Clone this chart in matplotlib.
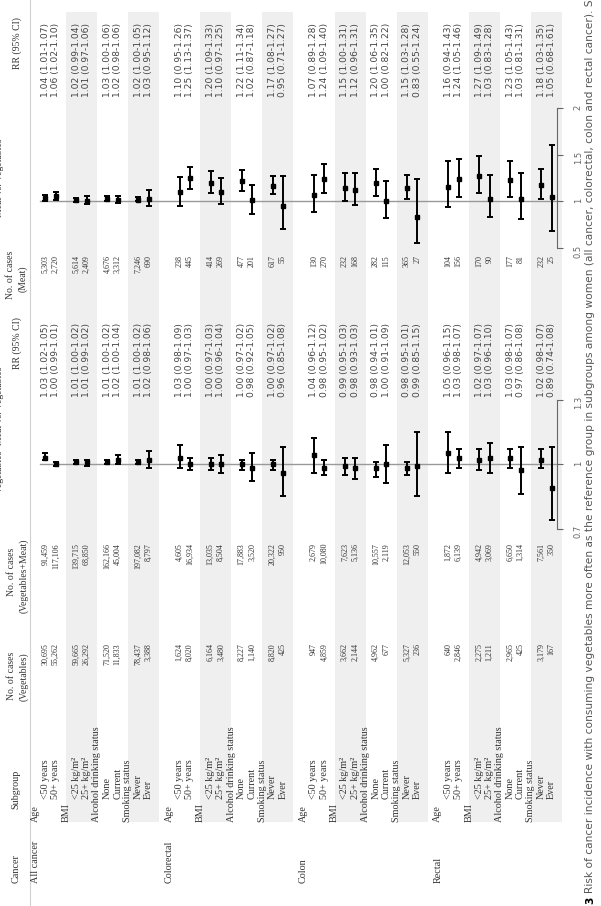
import matplotlib
matplotlib.use('Agg')
import matplotlib.pyplot as plt
from matplotlib.patches import Rectangle

cancers = ['All cancer', 'Colorectal', 'Colon', 'Rectal']
subgroup_lines = ['Age', '<50 years', '50+ years', 'BMI', '<25 kg/m²', '25+ kg/m²',
                  'Alcohol drinking status', 'None', 'Current', 'Smoking status', 'Never', 'Ever']

n_veg = [30695, 55262, 59665, 26292, 71520, 11833, 78437, 3388,
         1624, 8020, 6164, 3480, 8227, 1140, 8820, 425,
         947, 4859, 3662, 2144, 4962, 677, 5327, 236,
         640, 2846, 2275, 1211, 2965, 425, 3179, 167]
n_vegmeat = [91459, 117106, 139715, 68850, 162166, 45004, 197082, 8797,
             4605, 16934, 13035, 8504, 17883, 3520, 20322, 950,
             2679, 10080, 7623, 5136, 10557, 2119, 12053, 550,
             1872, 6139, 4942, 3069, 6650, 1314, 7561, 350]
rr_vm = [1.03, 1.00, 1.01, 1.01, 1.01, 1.02, 1.01, 1.02,
         1.03, 1.00, 1.00, 1.00, 1.00, 0.98, 1.00, 0.96,
         1.04, 0.98, 0.99, 0.98, 0.98, 1.00, 0.98, 0.99,
         1.05, 1.03, 1.02, 1.03, 1.03, 0.97, 1.02, 0.89]
lo_vm = [1.02, 0.99, 1.00, 0.99, 1.00, 1.00, 1.00, 0.98,
         0.98, 0.97, 0.97, 0.96, 0.97, 0.92, 0.97, 0.85,
         0.96, 0.95, 0.95, 0.93, 0.94, 0.91, 0.95, 0.85,
         0.96, 0.98, 0.97, 0.96, 0.98, 0.86, 0.98, 0.74]
hi_vm = [1.05, 1.01, 1.02, 1.02, 1.02, 1.04, 1.02, 1.06,
         1.09, 1.03, 1.03, 1.04, 1.02, 1.05, 1.02, 1.08,
         1.12, 1.02, 1.03, 1.03, 1.01, 1.09, 1.01, 1.15,
         1.15, 1.07, 1.07, 1.10, 1.07, 1.08, 1.07, 1.08]
n_meat = [5303, 2720, 5614, 2409, 4676, 3312, 7246, 690,
          238, 445, 414, 269, 477, 201, 617, 55,
          130, 270, 232, 168, 282, 115, 365, 27,
          104, 156, 170, 90, 177, 81, 232, 25]
rr_m = [1.04, 1.06, 1.02, 1.01, 1.03, 1.02, 1.02, 1.03,
        1.10, 1.25, 1.20, 1.10, 1.22, 1.02, 1.17, 0.95,
        1.07, 1.24, 1.15, 1.12, 1.20, 1.00, 1.15, 0.83,
        1.16, 1.24, 1.27, 1.03, 1.23, 1.03, 1.18, 1.05]
lo_m = [1.01, 1.02, 0.99, 0.97, 1.00, 0.98, 1.00, 0.95,
        0.95, 1.13, 1.09, 0.97, 1.11, 0.87, 1.08, 0.71,
        0.89, 1.09, 1.00, 0.96, 1.06, 0.82, 1.03, 0.55,
        0.94, 1.05, 1.09, 0.83, 1.05, 0.81, 1.03, 0.68]
hi_m = [1.07, 1.10, 1.04, 1.06, 1.06, 1.06, 1.05, 1.12,
        1.26, 1.37, 1.33, 1.25, 1.34, 1.18, 1.27, 1.27,
        1.28, 1.40, 1.31, 1.31, 1.35, 1.22, 1.28, 1.24,
        1.43, 1.46, 1.49, 1.28, 1.43, 1.31, 1.35, 1.61]

ticks_vm = [0.7, 1, 1.3]
ticks_m = [0.5, 1, 1.5, 2]

caption_num = '3'
caption = ('Risk of cancer incidence with consuming vegetables more often as the reference group '
           'in subgroups among women (all cancer, colorectal, colon and rectal cancer). Stratified')

# ---- layout (pixel coordinates of the rotated page) ----
W, H = 601, 906
LINE = 10.33
X0 = 35
SERIF = 'Liberation Serif'
TXT = '#333333'

fig = plt.figure(figsize=(W / 100, H / 100), dpi=100)
ax = fig.add_axes([0, 0, 1, 1])
ax.set_xlim(0, W)
ax.set_ylim(H, 0)
ax.axis('off')


def xline(k):
    return X0 + LINE * k


def rtext(x, y, s, ha='left', **kw):
    kw.setdefault('family', SERIF)
    kw.setdefault('color', TXT)
    kw.setdefault('fontsize', 7.3)
    ax.text(x, y, s, rotation=90, rotation_mode='anchor', ha=ha, va='center', **kw)


# shaded bands (BMI and smoking groups)
for b in range(4):
    for j in (3, 9):
        x0 = xline(13 * b + j)
        ax.add_patch(Rectangle((x0, 12), 3 * LINE, 810, color='#efefef', lw=0, zorder=0))

# header rule
ax.plot([30, 30], [0, H], color='#d0d0d0', lw=0.8)

# column headers
rtext(16, 883, 'Cancer')
rtext(16, 809, 'Subgroup')
rtext(12, 676, 'No. of cases', ha='center', fontsize=7)
rtext(24, 677, '(Vegetables)', ha='center', fontsize=7)
rtext(12, 572, 'No. of cases', ha='center', fontsize=7)
rtext(24, 576, '(Vegetables+Meat)', ha='center', fontsize=7)
rtext(17, 343, 'RR (95% CI)', ha='center', fontsize=7)
rtext(11, 275, 'No. of cases', ha='center', fontsize=7)
rtext(23, 279, '(Meat)', ha='center', fontsize=7)
rtext(17, 43, 'RR (95% CI)', ha='center', fontsize=7)
rtext(0, 430, 'Vegetables+Meat vs. Vegetables', ha='center', fontsize=7)
rtext(0, 178, 'Meat vs. Vegetables', ha='center', fontsize=7)

# body
row_x = []
for b, name in enumerate(cancers):
    rtext(xline(13 * b), 883, name)
    for j, lab in enumerate(subgroup_lines):
        x = xline(13 * b + j)
        if j % 3 == 0:
            rtext(x, 822, lab)
        else:
            rtext(x, 799, lab)
            row_x.append(x)

for i, x in enumerate(row_x):
    rtext(x, 643, f'{n_veg[i]:,}', ha='right', fontsize=5.8)
    rtext(x, 543, f'{n_vegmeat[i]:,}', ha='right', fontsize=5.8)
    rtext(x, 397, f'{rr_vm[i]:.2f} ({lo_vm[i]:.2f}-{hi_vm[i]:.2f})',
          family='DejaVu Sans', fontsize=6.6, color='#444444')
    rtext(x, 255, f'{n_meat[i]:,}', ha='right', fontsize=5.8)
    rtext(x, 97, f'{rr_m[i]:.2f} ({lo_m[i]:.2f}-{hi_m[i]:.2f})',
          family='DejaVu Sans', fontsize=6.6, color='#444444')

# caption (runs off the top edge, as in the source page)
rtext(590, 904, caption_num, family='DejaVu Sans', fontweight='bold', color='black', fontsize=7.7)
rtext(590, 893, caption, family='DejaVu Sans', color='#555555', fontsize=7.7)


def forest(ytop, ybot, y_one, px_unit, rr, lo, hi, ticks):
    fa = fig.add_axes([0, 1 - ybot / H, 1, (ybot - ytop) / H])
    fa.set_xlim(0, W)
    fa.set_ylim(1 - (ybot - y_one) / px_unit, 1 + (y_one - ytop) / px_unit)
    fa.patch.set_visible(False)
    for s in ('top', 'bottom', 'left'):
        fa.spines[s].set_visible(False)
    fa.spines['right'].set_position(('data', 557))
    fa.spines['right'].set_bounds(ticks[0], ticks[-1])
    fa.spines['right'].set_color('#666666')
    fa.set_xticks([])
    fa.yaxis.set_ticks_position('right')
    fa.set_yticks(ticks)
    fa.set_yticklabels([f'{t:g}' for t in ticks])
    fa.tick_params(axis='y', direction='out', length=4, width=0.8, colors='#666666',
                   labelsize=6, pad=8, labelrotation=90)
    fa.plot([40, 557], [1, 1], color='#999999', lw=1, zorder=1)
    yerr = [[r - l for r, l in zip(rr, lo)], [h - r for r, h in zip(rr, hi)]]
    fa.errorbar(row_x, rr, yerr=yerr, fmt='s', color='black', ms=2.6,
                capsize=2.5, elinewidth=1.4, capthick=1.4, zorder=3)
    return fa


forest(395, 535, 464, 215, rr_vm, lo_vm, hi_vm, ticks_vm)
forest(100, 256, 201.5, 93.3, rr_m, lo_m, hi_m, ticks_m)

fig.savefig('out.png', dpi=100)
